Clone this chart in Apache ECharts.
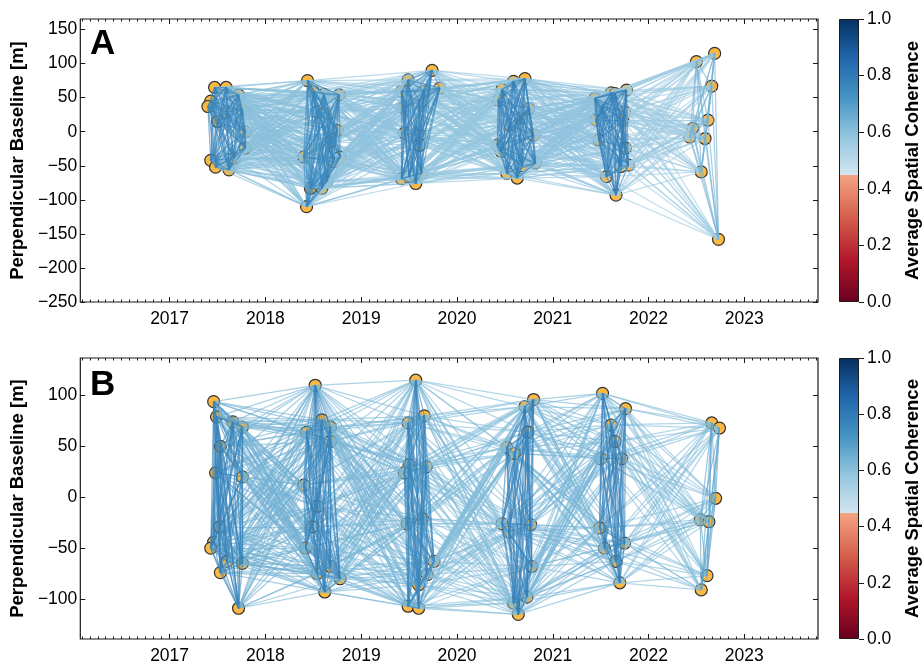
<!DOCTYPE html>
<html>
<head>
<meta charset="utf-8">
<script src="https://cdn.jsdelivr.net/npm/echarts@6/dist/echarts.min.js"></script>
<style>
  html, body { margin: 0; padding: 0; background: #fff; }
  #chart { width: 923px; height: 665px; }
</style>
</head>
<body>
<div id="chart"></div>
<script>
// ---- Acquisitions: date (decimal year) and perpendicular baseline [m] ----
const datesA = [
  2017.47, 2017.59, 2017.72, 2017.43, 2017.40, 2017.76, 2017.60, 2017.50, 2017.79, 2017.79, 2017.67, 2017.43, 2017.48, 2017.62,
  2018.44, 2018.50, 2018.61, 2018.77, 2018.54, 2018.67, 2018.75, 2018.67, 2018.40, 2018.71, 2018.78, 2018.47, 2018.59, 2018.64, 2018.43,
  2019.74, 2019.49, 2019.42, 2019.66, 2019.82, 2019.44, 2019.61, 2019.45, 2019.61, 2019.61, 2019.42, 2019.57, 2019.63, 2019.50,
  2020.59, 2020.71, 2020.47, 2020.43, 2020.75, 2020.80, 2020.42, 2020.46, 2020.82, 2020.52, 2020.63, 2020.68, 2020.55, 2020.66,
  2021.44, 2021.61, 2021.65, 2021.77, 2021.51, 2021.75, 2021.73, 2021.45, 2021.48, 2021.76, 2021.79, 2021.56, 2021.66, 2021.71,
  2022.50, 2022.69, 2022.66, 2022.62, 2022.46, 2022.43, 2022.59, 2022.55, 2022.73
];
const bperpA = [
  65, 65, 54, 45, 37, 32, 29, 15, 0, -24, -39, -42, -52, -56,
  75, 59, 55, 54, 29, 27, 2, -15, -37, -44, -37, -83, -83, -73, -110,
  90, 76, 59, 59, 64, 35, 44, -2, -5, -20, -69, -76, -61, -66,
  74, 78, 62, 46, 34, -5, -20, -29, -46, -61, -68, -50, 10, 20,
  49, 57, 56, 61, 37, 29, 17, 17, -12, -24, -49, -66, -93, -51,
  103, 115, 67, 17, 5, -8, -10, -59, -158
];

const datesB = [
  2017.46, 2017.49, 2017.66, 2017.76, 2017.53, 2017.48, 2017.76, 2017.52, 2017.46, 2017.43, 2017.60, 2017.76, 2017.53, 2017.72,
  2018.52, 2018.43, 2018.59, 2018.68, 2018.68, 2018.40, 2018.54, 2018.49, 2018.42, 2018.54, 2018.68, 2018.78, 2018.62,
  2019.57, 2019.49, 2019.66, 2019.50, 2019.45, 2019.68, 2019.48, 2019.64, 2019.76, 2019.69, 2019.60, 2019.49, 2019.60,
  2020.71, 2020.80, 2020.52, 2020.60, 2020.74, 2020.47, 2020.54, 2020.77, 2020.78, 2020.73, 2020.59, 2020.64,
  2021.52, 2021.76, 2021.61, 2021.65, 2021.50, 2021.72, 2021.49, 2021.54, 2021.75, 2021.66, 2021.70,
  2022.66, 2022.74, 2022.70, 2022.54, 2022.63, 2022.61, 2022.55
];
const bperpB = [
  94, 79, 74, 69, 50, 24, 20, -29, -44, -50, -63, -65, -74, -109,
  110, 64, 76, 69, 55, 12, -9, -29, -50, -75, -68, -80, -93,
  115, 73, 80, 32, 24, 30, -26, -21, -63, -76, -86, -107, -109,
  89, 96, 49, 43, 64, -26, -34, -27, -68, -98, -104, -115,
  102, 87, 71, 55, 38, 38, -30, -50, -45, -63, -84,
  73, 68, -1, -22, -24, -77, -91
];

// Mean coherence of interferograms: within one acquisition season, and
// between a season and the following one (seasons 2017 ... 2022)
const cohWithinA = [0.77, 0.76, 0.77, 0.78, 0.78, 0.64];
const cohAcrossA = [0.60, 0.59, 0.58, 0.59, 0.56];
const cohWithinB = [0.77, 0.77, 0.76, 0.78, 0.78, 0.68];
const cohAcrossB = [0.64, 0.63, 0.61, 0.63, 0.61];

// ---- Axis ticks ----
const yearTicks = [2017, 2018, 2019, 2020, 2021, 2022, 2023];
const yTicksA = [-250, -200, -150, -100, -50, 0, 50, 100, 150];
const yTicksB = [-100, -50, 0, 50, 100];
const cbarTicks = [0, 0.2, 0.4, 0.6, 0.8, 1.0];

const X_MIN = 2016.068, X_MAX = 2023.769;
const monthTicks = [];
for (let m = 2016 * 12 + 1; m / 12 <= X_MAX; m++) {
  const v = m / 12;
  if (v > X_MIN && m % 12 !== 0) monthTicks.push(v);
}

// Diverging coherence colormap (red below 0.45, blue above)
const cmapStops = [
  [0.0, '#67001f'], [0.15, '#b2182b'], [0.30, '#d6604d'], [0.45, '#f4a582'],
  [0.45, '#d1e5f0'], [0.5875, '#92c5de'], [0.725, '#4393c3'], [0.8625, '#2166ac'], [1.0, '#053061']
];
function hexToRgb(h) {
  return [parseInt(h.slice(1, 3), 16), parseInt(h.slice(3, 5), 16), parseInt(h.slice(5, 7), 16)];
}
function cmap(v) {
  for (let k = 0; k < cmapStops.length - 1; k++) {
    const a = cmapStops[k], b = cmapStops[k + 1];
    if (b[0] > a[0] && v >= a[0] && v <= b[0]) {
      const t = (v - a[0]) / (b[0] - a[0]);
      const ca = hexToRgb(a[1]), cb = hexToRgb(b[1]);
      const c = ca.map((x, i) => Math.round(x + (cb[i] - x) * t));
      return 'rgb(' + c.join(',') + ')';
    }
  }
  return cmapStops[cmapStops.length - 1][1];
}

// Interferogram network: every pair of acquisitions within the same
// season or in consecutive seasons
function buildNetwork(dates, bperp, within, across) {
  const season = dates.map(d => Math.floor(d) - 2017);
  const edges = [];
  for (let i = 0; i < dates.length; i++) {
    for (let j = i + 1; j < dates.length; j++) {
      const ds = Math.abs(season[i] - season[j]);
      if (ds > 1) continue;
      const coh = ds === 0 ? within[season[i]] : across[Math.min(season[i], season[j])];
      edges.push({ coh, coords: [[dates[i], bperp[i]], [dates[j], bperp[j]]] });
    }
  }
  edges.sort((a, b) => a.coh - b.coh);
  return edges.map(e => ({ coords: e.coords, lineStyle: { color: cmap(e.coh) } }));
}

const FONT = 'Liberation Sans, Arial, sans-serif';
const minus = v => String(v).replace('-', '\u2212');
const INK = '#1a1a1a';
const TICK_FONT = 17.5;
const NAME_FONT = 18.5;

const panels = [
  { top: 19, height: 283, yMin: -250, yMax: 165.5, yTicks: yTicksA, dates: datesA, bperp: bperpA, within: cohWithinA, across: cohAcrossA, letter: 'A' },
  { top: 358, height: 281, yMin: -139.2, yMax: 136.8, yTicks: yTicksB, dates: datesB, bperp: bperpB, within: cohWithinB, across: cohAcrossB, letter: 'B' }
];

const grid = [], xAxis = [], yAxis = [], series = [], title = [];

panels.forEach((p, k) => {
  grid.push({ left: 80, top: p.top, width: 738, height: p.height, show: true, borderColor: INK, borderWidth: 1.2, backgroundColor: 'transparent' });
  const g = k;
  const xBase = { type: 'value', gridIndex: g, min: X_MIN, max: X_MAX, splitLine: { show: false }, axisLine: { show: false, onZero: false } };
  xAxis.push(Object.assign({}, xBase, {
    position: 'bottom',
    axisTick: { show: true, inside: true, length: 5, customValues: yearTicks, lineStyle: { color: INK, width: 1 } },
    axisLabel: { show: true, customValues: yearTicks, margin: 8, fontSize: TICK_FONT, color: '#000', fontFamily: FONT, formatter: v => String(v) }
  }));
  xAxis.push(Object.assign({}, xBase, {
    position: 'bottom',
    axisTick: { show: true, inside: true, length: 2.5, customValues: monthTicks, lineStyle: { color: INK, width: 1 } },
    axisLabel: { show: false }
  }));
  xAxis.push(Object.assign({}, xBase, {
    position: 'top',
    axisTick: { show: true, inside: true, length: 5, customValues: yearTicks, lineStyle: { color: INK, width: 1 } },
    axisLabel: { show: false }
  }));
  xAxis.push(Object.assign({}, xBase, {
    position: 'top',
    axisTick: { show: true, inside: true, length: 2.5, customValues: monthTicks, lineStyle: { color: INK, width: 1 } },
    axisLabel: { show: false }
  }));
  const yBase = { type: 'value', gridIndex: g, min: p.yMin, max: p.yMax, splitLine: { show: false }, axisLine: { show: false, onZero: false } };
  yAxis.push(Object.assign({}, yBase, {
    position: 'left',
    name: 'Perpendicular Baseline [m]', nameLocation: 'middle', nameGap: 45, nameRotate: 90,
    nameTextStyle: { fontSize: NAME_FONT, fontWeight: 'bold', color: '#000', fontFamily: FONT },
    axisTick: { show: true, inside: true, length: 5, customValues: p.yTicks, lineStyle: { color: INK, width: 1 } },
    axisLabel: { show: true, customValues: p.yTicks, margin: 3, fontSize: TICK_FONT, color: '#000', fontFamily: FONT, formatter: minus }
  }));
  yAxis.push(Object.assign({}, yBase, {
    position: 'right',
    axisTick: { show: true, inside: true, length: 5, customValues: p.yTicks, lineStyle: { color: INK, width: 1 } },
    axisLabel: { show: false }
  }));

  // acquisitions
  series.push({
    type: 'scatter', xAxisIndex: k * 4, yAxisIndex: k * 2, z: 2,
    symbolSize: 12, silent: true,
    itemStyle: { color: '#fbb843', borderColor: '#333', borderWidth: 1.2, opacity: 1 },
    data: p.dates.map((d, i) => [d, p.bperp[i]])
  });
  // interferograms
  series.push({
    type: 'lines', coordinateSystem: 'cartesian2d', xAxisIndex: k * 4, yAxisIndex: k * 2, z: 3,
    silent: true, polyline: false,
    lineStyle: { width: 1.25, opacity: 0.62 },
    data: buildNetwork(p.dates, p.bperp, p.within, p.across)
  });

  title.push({
    text: p.letter, left: 90, top: p.top + (k === 0 ? 8 : 10), padding: 0,
    textStyle: { fontSize: 35, fontWeight: 'bold', color: '#000', fontFamily: FONT }
  });
});

// Colour bars
const cbarGradient = () => new echarts.graphic.LinearGradient(0, 1, 0, 0,
  cmapStops.map(s => ({ offset: s[0], color: s[1] })));
panels.forEach((p, k) => {
  const g = 2 + k;
  grid.push({ left: 839, top: p.top, width: 22, height: p.height });
  xAxis.push({ type: 'category', gridIndex: g, data: ['c'], show: false, boundaryGap: true });
  yAxis.push({
    type: 'value', gridIndex: g, min: 0, max: 1, position: 'right',
    splitLine: { show: false }, axisLine: { show: false },
    name: 'Average Spatial Coherence', nameLocation: 'middle', nameGap: 44, nameRotate: 90,
    nameTextStyle: { fontSize: NAME_FONT, fontWeight: 'bold', color: '#000', fontFamily: FONT },
    axisTick: { show: true, inside: false, length: 5, customValues: cbarTicks, lineStyle: { color: INK, width: 1 } },
    axisLabel: { show: true, customValues: cbarTicks, margin: 8, fontSize: TICK_FONT, color: '#000', fontFamily: FONT, formatter: v => v.toFixed(1) }
  });
  series.push({
    type: 'bar', xAxisIndex: 8 + k, yAxisIndex: 4 + k, barWidth: '100%', silent: true,
    itemStyle: { color: cbarGradient(), borderColor: INK, borderWidth: 1 },
    data: [1]
  });
});

const chart = echarts.init(document.getElementById('chart'), null, { renderer: 'canvas' });
chart.setOption({
  animation: false,
  backgroundColor: '#fff',
  textStyle: { fontFamily: FONT },
  title, grid, xAxis, yAxis, series
});
</script>
</body>
</html>
